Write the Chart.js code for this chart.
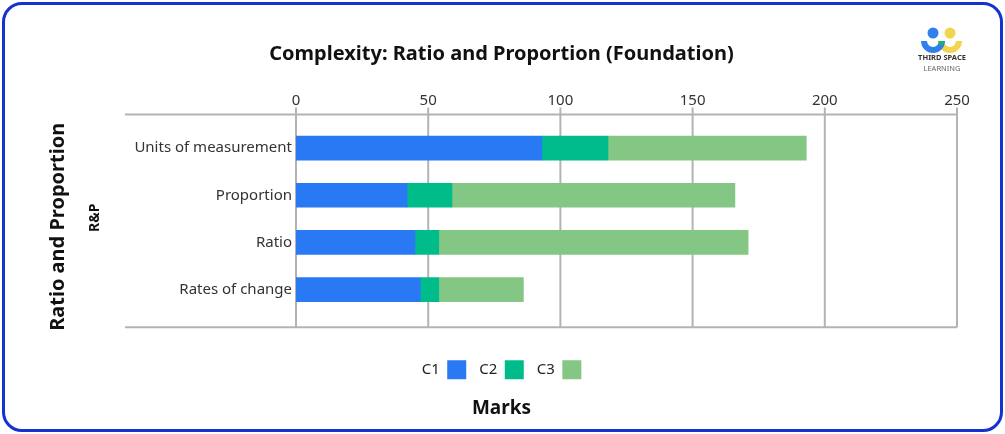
<!DOCTYPE html>
<html>
<head>
<meta charset="utf-8">
<script src="https://cdn.jsdelivr.net/npm/chart.js@4.4.0/dist/chart.umd.min.js"></script>
<style>
  html, body { margin: 0; padding: 0; background: #fff; }
  #wrap { position: relative; width: 1005px; height: 434px; }
  #frame {
    position: absolute; left: 2px; top: 2px; width: 1001px; height: 430px;
    box-sizing: border-box; border: 3px solid #1431d2; border-radius: 20px;
    pointer-events: none;
  }
  #logo { position: absolute; left: 912px; top: 22px; }
</style>
</head>
<body>
<div id="wrap">
  <canvas id="myChart" width="1005" height="434"></canvas>
  <div id="frame"></div>
  <svg id="logo" width="60" height="56" viewBox="0 0 60 56">
    <circle cx="21" cy="11" r="5.5" fill="#2f80ed"/>
    <circle cx="38" cy="11" r="5.5" fill="#f2d54e"/>
    <path d="M26 19 a12 12 0 0 0 24 0 h-6 a6 6 0 0 1 -12 0 z" fill="#f2d54e"/>
    <path d="M9 19 a12 12 0 0 0 24 0 h-6 a6 6 0 0 1 -12 0 z" fill="#2f80ed"/>
    <path d="M26 19 h6 a6 6 0 0 1 -3 5.2 a12 12 0 0 1 -3 -5.2 z" fill="#1fae6b"/>
    <text x="30" y="38" text-anchor="middle" font-family="Noto Sans" font-size="7.5" font-weight="bold" fill="#333">THIRD SPACE</text>
    <text x="30" y="49" text-anchor="middle" font-family="Noto Sans" font-size="7.5" fill="#666">LEARNING</text>
  </svg>
</div>
<script>
const categories = ['Units of measurement', 'Proportion', 'Ratio', 'Rates of change'];
const c1Marks = [93, 42, 45, 47];
const c2Marks = [25, 17, 9, 7];
const c3Marks = [75, 107, 117, 32];
const xTicks = [0, 50, 100, 150, 200, 250];

const fontFamily = '"Noto Sans", "Open Sans", sans-serif';

// grid lines, frame lines and the two rotated y labels
const framePlugin = {
  id: 'frame',
  beforeDatasetsDraw(chart) {
    const { ctx, chartArea, scales } = chart;
    const top = chartArea.top - 10;
    const bottom = chartArea.bottom + 14;
    const left = chartArea.left - 171;
    ctx.save();
    ctx.strokeStyle = '#b3b3b3';
    ctx.lineWidth = 2;
    xTicks.forEach(v => {
      const x = scales.x.getPixelForValue(v);
      ctx.beginPath();
      ctx.moveTo(x, top - 7);
      ctx.lineTo(x, bottom);
      ctx.stroke();
    });
    [top, bottom].forEach(y => {
      ctx.beginPath();
      ctx.moveTo(left, y);
      ctx.lineTo(chartArea.right, y);
      ctx.stroke();
    });
    ctx.restore();
  },
  afterDraw(chart) {
    const { ctx, chartArea } = chart;
    const mid = (chartArea.top - 10 + chartArea.bottom + 14) / 2;
    ctx.save();
    ctx.fillStyle = '#111';
    ctx.textAlign = 'center';
    ctx.textBaseline = 'middle';
    ctx.translate(95, mid - 3);
    ctx.rotate(-Math.PI / 2);
    ctx.font = 'bold 14px ' + fontFamily;
    ctx.fillText('R&P', 0, 0);
    ctx.restore();
    ctx.save();
    ctx.fillStyle = '#111';
    ctx.textAlign = 'center';
    ctx.textBaseline = 'middle';
    ctx.translate(58, mid + 6);
    ctx.rotate(-Math.PI / 2);
    ctx.font = 'bold 20px ' + fontFamily;
    ctx.fillText('Ratio and Proportion', 0, 0);
    ctx.restore();
  }
};

const ctx = document.getElementById('myChart').getContext('2d');
const myChart = new Chart(ctx, {
  type: 'bar',
  data: {
    labels: categories,
    datasets: [
      { label: 'C1', data: c1Marks, backgroundColor: '#2979f5' },
      { label: 'C2', data: c2Marks, backgroundColor: '#00bc8a' },
      { label: 'C3', data: c3Marks, backgroundColor: '#84c785' }
    ]
  },
  options: {
    indexAxis: 'y',
    responsive: false,
    animation: false,
    barThickness: 24,
    layout: { padding: { left: 46, right: 48, top: 30, bottom: 14 } },
    scales: {
      x: {
        position: 'top',
        stacked: true,
        min: 0,
        max: 250,
        afterFit: s => { s.height = 50.5; },
        afterBuildTicks: s => { s.ticks = xTicks.map(v => ({ value: v })); },
        grid: { display: false },
        border: { display: false },
        ticks: { padding: 7, color: '#333', font: { family: fontFamily, size: 15 } }
      },
      xBottom: {
        position: 'bottom',
        axis: 'x',
        display: true,
        afterFit: s => { s.height = 34; },
        grid: { display: false },
        border: { display: false },
        ticks: { display: false }
      },
      y: {
        stacked: true,
        afterFit: s => { s.width = 250; },
        grid: { display: false, drawTicks: false },
        border: { display: false },
        ticks: { padding: 4, color: '#333', font: { family: fontFamily, size: 15 } }
      }
    },
    plugins: {
      tooltip: { enabled: false },
      subtitle: {
        display: true,
        position: 'top',
        text: 'Complexity: Ratio and Proportion (Foundation)',
        color: '#111',
        padding: { top: 12, bottom: 8 },
        font: { family: fontFamily, size: 20, weight: 'bold' }
      },
      legend: {
        position: 'bottom',
        rtl: true,
        reverse: true,
        labels: {
          boxWidth: 19,
          boxHeight: 19,
          padding: 13,
          color: '#222',
          font: { family: fontFamily, size: 15 }
        }
      },
      title: {
        display: true,
        position: 'bottom',
        text: 'Marks',
        color: '#111',
        padding: { top: 8, bottom: 0 },
        font: { family: fontFamily, size: 19, weight: 'bold' }
      }
    }
  },
  plugins: [framePlugin]
});
</script>
</body>
</html>
